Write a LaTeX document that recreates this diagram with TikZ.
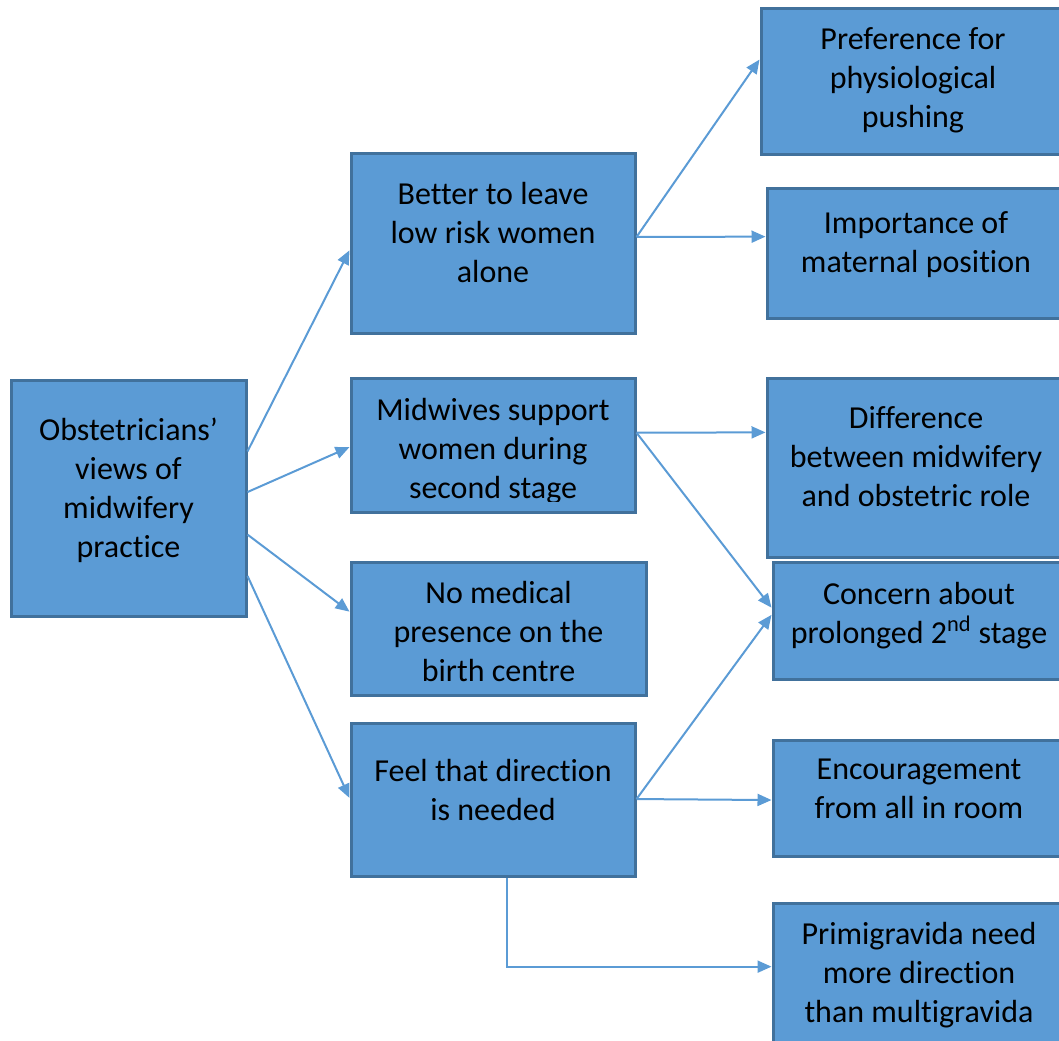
\documentclass[tikz,border=0pt]{standalone}
\usepackage{fontspec}
\setmainfont{Carlito}[Ligatures={NoCommon}]
\usetikzlibrary{arrows.meta,calc}
\definecolor{boxfill}{HTML}{5B9BD5}
\definecolor{boxline}{HTML}{41719C}
\definecolor{arrowcol}{HTML}{5B9BD5}
\begin{document}
\begin{tikzpicture}[x=0.75pt,y=-0.75pt,
  box/.style={draw=boxline,fill=boxfill,line width=2.25pt,rectangle,inner sep=0pt},
  txt/.style={align=center,font=\fontsize{24pt}{29.25pt}\selectfont,inner sep=0pt,text=black},
  conn/.style={draw=arrowcol,line width=1.5pt,-{Triangle[length=10.5pt,width=9pt]}}]
\useasboundingbox (0,0) rectangle (1059,1040);
\clip (0,0) rectangle (1059,1040);

% boxes
\node[box,minimum width=176.25pt,minimum height=177pt] (obs) at (128.5,498) {};
\node[box,minimum width=213pt,minimum height=135pt] (better) at (493,243) {};
\node[box,minimum width=213pt,minimum height=100.5pt] (midw) at (493,445) {};
\node[box,minimum width=221.25pt,minimum height=99.75pt] (nomed) at (498.5,628.5) {};
\node[box,minimum width=213pt,minimum height=114.75pt] (feel) at (493,799.5) {};
\node[box,minimum width=228pt,minimum height=109.5pt] (pref) at (913,81) {};
\node[box,minimum width=223.5pt,minimum height=97.5pt] (imp) at (916,253) {};
\node[box,minimum width=223.5pt,minimum height=134.25pt] (diff) at (916,467.5) {};
\node[box,minimum width=219pt,minimum height=87.75pt] (conc) at (919,620.5) {};
\node[box,minimum width=219pt,minimum height=87pt] (enc) at (919,798) {};
\node[box,minimum width=219pt,minimum height=135pt] (prim) at (919,993) {};

% texts
\node[txt] (tobs) at (128.5,490.6) {Obstetricians’\\views of\\midwifery\\practice};
\node[txt] (tbetter) at (493,232.7) {Better to leave\\low risk women\\alone};
\begin{scope}
  \clip (midw.north west) rectangle ($(midw.north east)!0.91!(midw.south east)$);
  \node[txt] (tmidw) at (493,451) {Midwives support\\women during\\second stage};
\end{scope}
\node[txt] (tnomed) at (498.5,631.6) {No medical\\presence on the\\birth centre};
\node[txt] (tfeel) at (493,789.6) {Feel that direction\\is needed};
\node[txt] (tpref) at (913,80.6) {Preference for\\physiological\\pushing};
\node[txt] (timp) at (916,244.6) {Importance of\\maternal position};
\node[txt] (tdiff) at (916,457) {Difference\\between midwifery\\and obstetric role};
\node[txt] (tconc) at (919,616) {Concern about\\prolonged 2\textsuperscript{nd} stage};
\node[txt] (tenc) at (919,789) {Encouragement\\from all in room};
\node[txt] (tprim) at (919,975) {Primigravida need\\more direction\\than multigravida};

% connectors
\draw[conn] ($(obs.north east)!0.305!(obs.south east)$) -- ($(better.north west)!0.54!(better.south west)$);
\draw[conn] ($(obs.north east)!0.475!(obs.south east)$) -- ($(midw.north west)!0.515!(midw.south west)$);
\draw[conn] ($(obs.north east)!0.653!(obs.south east)$) -- ($(nomed.north west)!0.376!(nomed.south west)$);
\draw[conn] ($(obs.north east)!0.826!(obs.south east)$) -- ($(feel.north west)!0.49!(feel.south west)$);
\draw[conn] ($(better.north east)!0.467!(better.south east)$) -- ($(pref.north west)!0.356!(pref.south west)$);
\draw[conn] ($(better.north east)!0.467!(better.south east)$) -- ($(imp.north west)!0.377!(imp.south west)$);
\draw[conn] ($(midw.north east)!0.41!(midw.south east)$) -- ($(diff.north west)!0.307!(diff.south west)$);
\draw[conn] ($(midw.north east)!0.41!(midw.south east)$) -- ($(conc.north west)!0.393!(conc.south west)$);
\draw[conn] ($(feel.north east)!0.497!(feel.south east)$) -- ($(conc.north west)!0.453!(conc.south west)$);
\draw[conn] ($(feel.north east)!0.497!(feel.south east)$) -- ($(enc.north west)!0.517!(enc.south west)$);
\draw[conn] ($(feel.south west)!0.549!(feel.south east)$) |- ($(prim.north west)!0.356!(prim.south west)$);
\end{tikzpicture}
\end{document}
